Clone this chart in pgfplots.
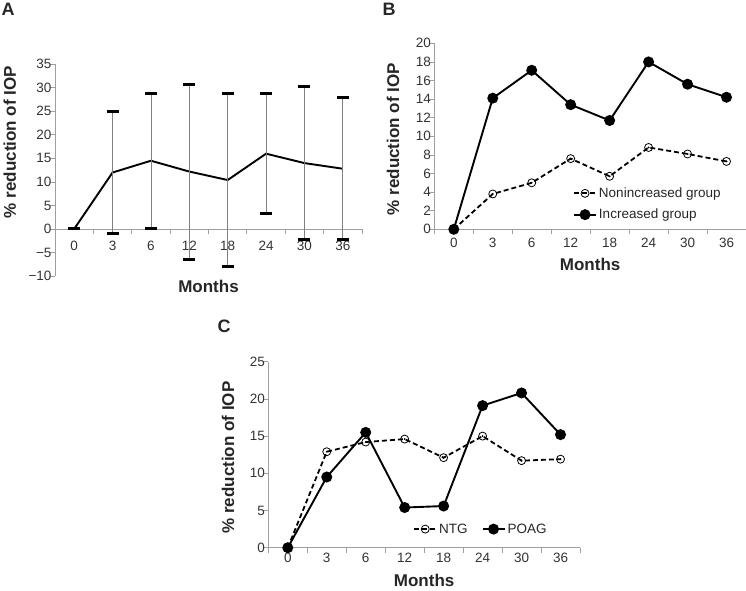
\documentclass[border=0pt]{standalone}
\usepackage{pgfplots}
\pgfplotsset{compat=1.18}
\usepackage{fontspec}
\setmainfont{Liberation Sans}

\pgfplotsset{
  iop/.style={
    scale only axis,
    axis x line=middle, axis y line=left,
    axis line style={-, gray!75, line width=0.8pt},
    hide obscured x ticks=false, hide obscured y ticks=false,
    xmin=-0.5, xmax=7.5,
    xtick={0,...,7}, xticklabels={0,3,6,12,18,24,30,36},
    minor xtick={-0.5,0.5,...,7.5},
    tick align=outside,
    major tick length=0pt, minor tick length=5pt,
    tick style={gray!75, line width=0.8pt},
    ticklabel style={font=\fontsize{13.5}{15}\selectfont, text=black!80},
    label style={font=\bfseries\fontsize{17}{19}\selectfont, text=black!85},
    /pgf/number format/assume math mode=true,
    xlabel=Months, ylabel={\% reduction of IOP},
    ylabel style={anchor=center, rotate=0},
    xlabel style={at={(axis description cs:0.5,-0.18)}, anchor=center},
    clip=false,
    legend style={draw=none, fill=none, font=\fontsize{13.5}{15}\selectfont, text=black!85},
    legend cell align=left,
    legend image code/.code={\draw[mark repeat=2,mark phase=2,#1] plot coordinates {(0pt,0pt)(11pt,0pt)(22pt,0pt)};},
  },
  solidser/.style={black, line width=1.9pt, mark=*, mark size=4.5pt},
  dashser/.style={black, line width=1.8pt, dash pattern=on 5pt off 3pt, mark=o, mark size=4pt,
    mark options={solid, fill=white, line width=0.8pt}},
  dotser/.style={forget plot, only marks, mark=*, mark size=0.7pt, black},
}

\begin{document}
\begin{tikzpicture}
\path[use as bounding box] (0pt,0pt) rectangle (746pt,590pt);

\node[font=\bfseries\fontsize{18}{20}\selectfont, text=black!85] at (8pt,581pt) {A};
\node[font=\bfseries\fontsize{18}{20}\selectfont, text=black!85] at (389pt,581pt) {B};
\node[font=\bfseries\fontsize{18}{20}\selectfont, text=black!85] at (224pt,264pt) {C};

% Panel A
\begin{axis}[iop, at={(55pt,314pt)}, anchor=south west, width=307pt, height=211.7pt,
  ymin=-10, ymax=35, ytick={-10,-5,...,35}, minor ytick={-10,-5,...,35},
  yticklabels={−10,−5,0,5,10,15,20,25,30,35},
  xticklabel style={yshift=-9pt},
  ylabel style={at={(axis description cs:-0.147,0.633)}},
  xlabel style={at={(axis description cs:0.5,-0.047)}}]
\addplot[black, line width=1.9pt, mark=none,
  error bars/.cd, y dir=both, y explicit, error mark=|,
  error bar style={gray, line width=0.7pt},
  error mark options={black, line width=3pt, mark size=6pt}]
  coordinates {
    (0,0) +- (0,0)
    (1,12) +- (0,13)
    (2,14.5) +- (0,14.3)
    (3,12.2) +- (0,18.6)
    (4,10.4) +- (0,18.4)
    (5,16) +- (0,12.8)
    (6,14) +- (0,16.2)
    (7,12.8) +- (0,15.1)
  };
\end{axis}

% Panel B
\begin{axis}[iop, at={(434.3pt,360.7pt)}, anchor=south west, width=311.7pt, height=186pt,
  ymin=0, ymax=20, ytick={0,2,...,20}, minor ytick={0,2,...,20},
  xticklabel style={yshift=-5pt},
  ylabel style={at={(axis description cs:-0.1325,0.485)}},
  xlabel style={at={(axis description cs:0.5,-0.188)}},
  legend style={at={(axis description cs:0.435,0.136)}, anchor=west, row sep=6pt}]
\addplot[dashser] coordinates {(0,0) (1,3.8) (2,5) (3,7.6) (4,5.7) (5,8.8) (6,8.1) (7,7.3)};
\addlegendentry{Nonincreased group}
\addplot[solidser] coordinates {(0,0) (1,14.1) (2,17.1) (3,13.4) (4,11.7) (5,18) (6,15.6) (7,14.2)};
\addlegendentry{Increased group}
\addplot[dotser] coordinates {(1,3.8) (2,5) (3,7.6) (4,5.7) (5,8.8) (6,8.1) (7,7.3)};
\end{axis}

% Panel C
\begin{axis}[iop, at={(268.3pt,42.3pt)}, anchor=south west, width=311.7pt, height=186pt,
  ymin=0, ymax=25, ytick={0,5,...,25}, minor ytick={0,5,...,25},
  xticklabel style={yshift=-2pt},
  ylabel style={at={(axis description cs:-0.129,0.485)}},
  xlabel style={at={(axis description cs:0.5,-0.178)}},
  legend columns=2,
  legend style={at={(axis description cs:0.455,0.1)}, anchor=west,
    /tikz/every even column/.append style={column sep=12pt}}]
\addplot[dashser] coordinates {(0,0) (1,12.9) (2,14.2) (3,14.6) (4,12.1) (5,15) (6,11.7) (7,11.9)};
\addlegendentry{NTG}
\addplot[solidser] coordinates {(0,0) (1,9.5) (2,15.5) (3,5.4) (4,5.6) (5,19.1) (6,20.8) (7,15.2)};
\addlegendentry{POAG}
\addplot[dotser] coordinates {(1,12.9) (2,14.2) (3,14.6) (4,12.1) (5,15) (6,11.7) (7,11.9)};
\end{axis}
\end{tikzpicture}
\end{document}
